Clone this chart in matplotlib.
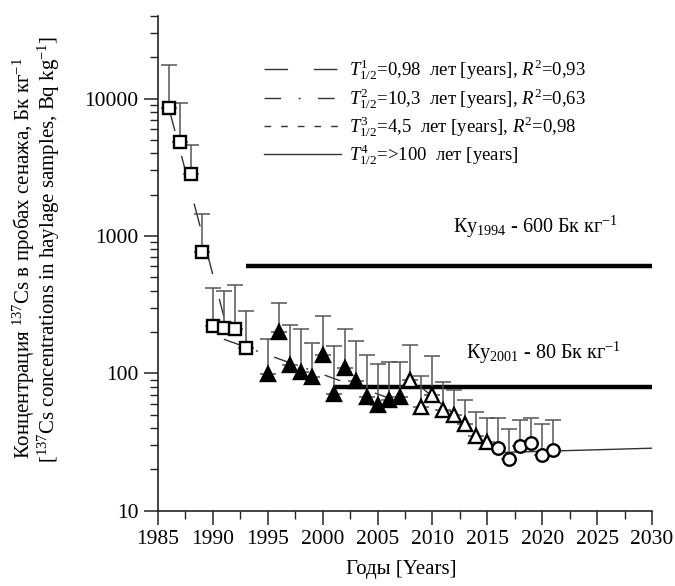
import matplotlib
matplotlib.use("Agg")
import matplotlib.pyplot as plt
import numpy as np
from matplotlib.lines import Line2D
from matplotlib.ticker import FixedLocator, FixedFormatter, LogLocator, MultipleLocator, NullFormatter

plt.rcParams.update({
    "font.family": ["Liberation Serif", "DejaVu Serif"],
    "mathtext.fontset": "custom",
    "mathtext.rm": "Liberation Serif",
    "mathtext.it": "Liberation Serif:italic",
    "lines.scale_dashes": False,
})

# measured concentrations (upper error = top of the whisker)
years_sq = [1986, 1987, 1988, 1989, 1990, 1991, 1992, 1993]
conc_sq = [8490, 4850, 2800, 760, 222, 215, 211, 152]
top_sq = [17500, 9230, 4610, 1443, 420, 400, 440, 286]

years_tri = [1995, 1996, 1997, 1998, 1999, 2000, 2001, 2002, 2003, 2004, 2005, 2006, 2007]
conc_tri = [99, 200, 114, 102, 94.5, 135, 70.6, 109, 87.9, 67.6, 58.8, 63.9, 67.6]
top_tri = [177, 327, 223, 209, 167, 261, 159, 209, 172, 137, 116, 121, 120]

years_otri = [2008, 2009, 2010, 2011, 2012, 2013, 2014, 2015]
conc_otri = [89.3, 57.1, 69.5, 54.1, 49.7, 42.6, 35.0, 31.8]
top_otri = [161, 95, 134, 86, 75.5, 64, 52.5, 47]

years_circ = [2016, 2017, 2018, 2019, 2020, 2021]
conc_circ = [28.4, 23.7, 29.6, 31.3, 25.4, 27.7]
top_circ = [47, 39, 45.7, 47, 42.8, 45.7]

# fitted half-life lines (end points)
fit1_years, fit1_vals = [1986, 1991], [8500, 260]
fit2_years, fit2_vals = [1991, 2007], [177, 62]
fit3_years, fit3_vals = [2008, 2016], [92, 27]
fit4_years, fit4_vals = [2016, 2030], [26.5, 28.5]

# permissible levels
ku1994_years, ku1994_val = [1993, 2030], 600
ku2001_years, ku2001_val = [2001, 2030], 80

fit_labels = [
    r"$T^{1}_{1/2}$=0,98  лет [years], $R^{2}$=0,93",
    r"$T^{2}_{1/2}$=10,3  лет [years], $R^{2}$=0,63",
    r"$T^{3}_{1/2}$=4,5  лет [years], $R^{2}$=0,98",
    r"$T^{4}_{1/2}$=>100  лет [years]",
]

fig = plt.figure(figsize=(6.75, 5.86), dpi=100)
ax = fig.add_axes([0.234, 0.1285, 0.732, 0.8445])
ax.set_yscale("log")

fit_color = "#333333"
styles = [
    (0, (17, 18.5)),
    (0, (12, 12.5, 1.5, 12.5)),
    (0, (4.8, 7.2)),
    "-",
]
fits = [(fit1_years, fit1_vals), (fit2_years, fit2_vals),
        (fit3_years, fit3_vals), (fit4_years, fit4_vals)]
for (xs, ys), ls in zip(fits, styles):
    ax.plot(xs, ys, color=fit_color, lw=1.0, ls=ls, zorder=2)

ax.plot(ku1994_years, [ku1994_val] * 2, color="black", lw=3.2, solid_capstyle="butt", zorder=2)
ax.plot(ku2001_years, [ku2001_val] * 2, color="black", lw=3.2, solid_capstyle="butt", zorder=2)

groups = [
    (years_sq, conc_sq, top_sq, "s", "white", 8.5),
    (years_tri, conc_tri, top_tri, "^", "black", 9.5),
    (years_otri, conc_otri, top_otri, "^", "white", 9.5),
    (years_circ, conc_circ, top_circ, "o", "white", 9),
]
for xs, ys, tops, mk, fc, ms in groups:
    ys = np.array(ys, dtype=float)
    up = np.array(tops, dtype=float) - ys
    ax.errorbar(xs, ys, yerr=[np.zeros_like(ys), up], fmt="none", ecolor="#555555",
                elinewidth=1.1, capsize=6, capthick=1.1, zorder=3)
    ax.plot(xs, ys, ls="none", marker=mk, ms=ms, mfc=fc, mec="black", mew=1.7, zorder=4)

ax.text(2011.9, 1045, r"Ку$_{1994}$ - 600 Бк кг$^{-1}$", fontsize=14.5, va="baseline", ha="left")
ax.text(2013.1, 126.5, r"Ку$_{2001}$ - 80 Бк кг$^{-1}$", fontsize=14.5, va="baseline", ha="left")

handles = [Line2D([], [], color=fit_color, lw=1.0, ls=ls) for ls in styles]
ax.legend(handles, fit_labels, loc="upper left", bbox_to_anchor=(0.215, 0.915), frameon=False,
          fontsize=13.5, handlelength=4.1, handletextpad=0.45, labelspacing=0.2,
          borderpad=0, borderaxespad=0)

ax.set_xlim(1985, 2030)
ax.set_ylim(10, 40000)
ax.xaxis.set_major_locator(MultipleLocator(5))
ax.xaxis.set_minor_locator(MultipleLocator(2.5))
ax.yaxis.set_major_locator(FixedLocator([10, 100, 1000, 10000]))
ax.yaxis.set_major_formatter(FixedFormatter(["10", "100", "1000", "10000"]))
ax.yaxis.set_minor_locator(LogLocator(base=10, subs=np.arange(2, 10)))
ax.yaxis.set_minor_formatter(NullFormatter())

for side in ("top", "right"):
    ax.spines[side].set_visible(False)
for side in ("left", "bottom"):
    ax.spines[side].set_linewidth(1.2)
    ax.spines[side].set_color("#222222")
ax.tick_params(which="major", direction="out", length=10, width=1.1, labelsize=15.5, pad=4, color="#222222")
ax.tick_params(which="minor", direction="out", length=6, width=1.0, color="#222222")

fig.text(0.035, 0.56, r"Концентрация $^{137}$Cs в пробах сенажа, Бк кг$^{-1}$",
         rotation=90, ha="center", va="center", fontsize=15)
fig.text(0.072, 0.575, r"[$^{137}$Cs concentrations in haylage samples, Bq kg$^{-1}$]",
         rotation=90, ha="center", va="center", fontsize=15)
fig.text(0.594, 0.028, "Годы [Years]", ha="center", va="center", fontsize=15)

fig.savefig("out.png", dpi=100)
